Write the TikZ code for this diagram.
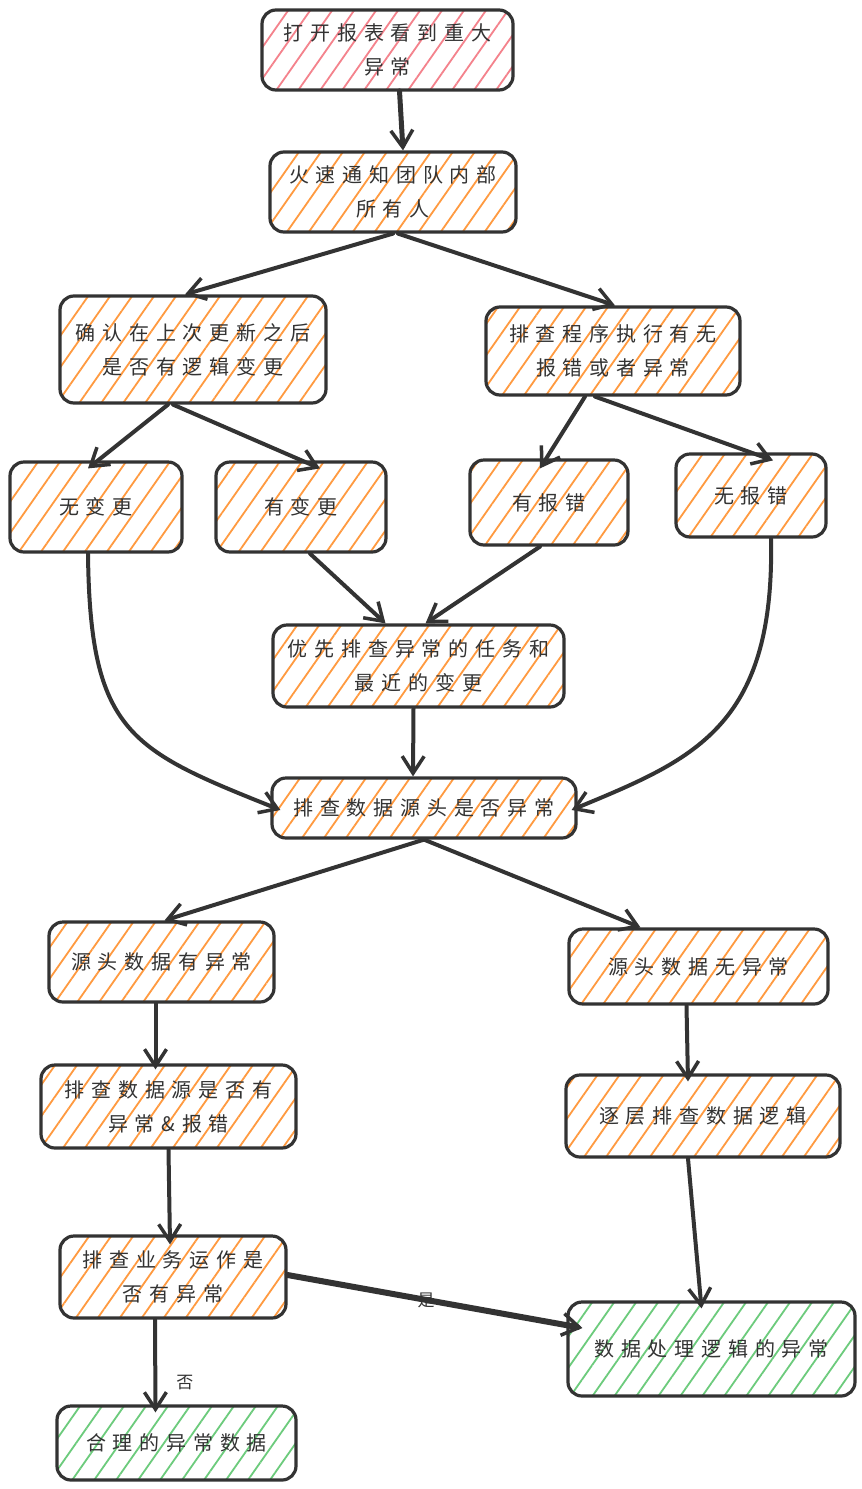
\documentclass[tikz,border=0pt]{standalone}
\usepackage{fontspec}
\newfontfamily\cjk[LetterSpace=34]{Noto Sans CJK SC}
\usetikzlibrary{arrows.meta,patterns.meta}
\definecolor{ink}{HTML}{333333}
\definecolor{hatchorange}{HTML}{FF9A40}
\definecolor{hatchred}{HTML}{F4828C}
\definecolor{hatchgreen}{HTML}{6CCB7C}
\tikzset{
  box/.style={draw=ink, line width=3.2pt, rounded corners=14pt, inner sep=0pt,
    align=center, text=ink, font=\cjk\fontsize{20}{34}\selectfont,
    pattern={Lines[angle=55,distance=18pt,line width=1.8pt]}},
  orangebox/.style={box, pattern color=hatchorange},
  redbox/.style={box, pattern color=hatchred},
  greenbox/.style={box, pattern color=hatchgreen},
  conn/.style={draw=ink, line width=4pt, line cap=round,
    -{Straight Barb[length=17pt,width=22pt,line width=3.5pt]}},
  lbl/.style={text=ink, font=\cjk\fontsize{17}{18}\selectfont, inner sep=1pt}
}
\begin{document}
\begin{tikzpicture}[x=1pt,y=-1pt]
\useasboundingbox[fill=white] (0,0) rectangle (862,1489);
\node[redbox, minimum width=251pt, minimum height=80pt] (n1) at (387.5,50) {打开报表看到重大\\异常};
\node[orangebox, minimum width=246pt, minimum height=80pt] (n2) at (393,192) {火速通知团队内部\\所有人};
\node[orangebox, minimum width=266pt, minimum height=107pt] (n3) at (193,349.5) {确认在上次更新之后\\是否有逻辑变更};
\node[orangebox, minimum width=254pt, minimum height=88pt] (n4) at (613,351) {排查程序执行有无\\报错或者异常};
\node[orangebox, minimum width=172pt, minimum height=90pt] (n5) at (96,507) {无变更};
\node[orangebox, minimum width=170pt, minimum height=90pt] (n6) at (301,507) {有变更};
\node[orangebox, minimum width=158pt, minimum height=85pt] (n7) at (549,502.5) {有报错};
\node[orangebox, minimum width=150pt, minimum height=83pt] (n8) at (751,495.5) {无报错};
\node[orangebox, minimum width=291pt, minimum height=82pt] (n9) at (418.5,666) {优先排查异常的任务和\\最近的变更};
\node[orangebox, minimum width=304pt, minimum height=60pt] (n10) at (424,808) {排查数据源头是否异常};
\node[orangebox, minimum width=225pt, minimum height=80pt] (n11) at (161.5,962) {源头数据有异常};
\node[orangebox, minimum width=259pt, minimum height=75pt] (n12) at (698.5,966.5) {源头数据无异常};
\node[orangebox, minimum width=255pt, minimum height=83pt] (n13) at (168.5,1106.5) {排查数据源是否有\\异常\&报错};
\node[orangebox, minimum width=274pt, minimum height=82pt] (n14) at (703,1116) {逐层排查数据逻辑};
\node[orangebox, minimum width=226pt, minimum height=82pt] (n15) at (173,1277) {排查业务运作是\\否有异常};
\node[greenbox, minimum width=287pt, minimum height=94pt] (n16) at (711.5,1349) {数据处理逻辑的异常};
\node[greenbox, minimum width=239pt, minimum height=74pt] (n17) at (176.5,1443) {合理的异常数据};

\draw[conn, line width=5pt] ([xshift=12pt]n1.south) -- ([xshift=10pt]n2.north);
\draw[conn] (n2.south) -- ([xshift=-8pt]n3.north);
\draw[conn] ([xshift=5pt]n2.south) -- ([xshift=2pt]n4.north);
\draw[conn] ([xshift=-25pt]n3.south) -- ([xshift=-8pt,yshift=-8pt]n5.north);
\draw[conn] ([xshift=-20pt]n3.south) -- ([xshift=19pt,yshift=-8pt]n6.north);
\draw[conn] ([xshift=-28pt]n4.south) -- ([xshift=-9pt,yshift=-10pt]n7.north);
\draw[conn] ([xshift=-18pt]n4.south) -- ([xshift=22pt,yshift=-8pt]n8.north);
\draw[conn] ([xshift=-8pt]n5.south) .. controls +(2,180) and +(-150,-60) .. ([xshift=10pt,yshift=-2pt]n10.west);
\draw[conn] ([xshift=20pt]n8.south) .. controls +(4,190) and +(120,-50) .. ([xshift=-6pt,yshift=-2pt]n10.east);
\draw[conn] ([xshift=9pt]n6.south) -- ([xshift=-33pt]n9.north);
\draw[conn] ([xshift=-9pt]n7.south) -- ([xshift=7pt]n9.north);
\draw[conn] ([xshift=-5pt]n9.south) -- ([xshift=-11pt]n10.north);
\draw[conn] (n10.south) -- ([xshift=3pt]n11.north);
\draw[conn] (n10.south) -- ([xshift=-58pt]n12.north);
\draw[conn] ([xshift=-6pt]n11.south) -- ([xshift=-13pt,yshift=-6pt]n13.north);
\draw[conn] ([xshift=-12pt]n12.south) -- ([xshift=-15pt,yshift=-8pt]n14.north);
\draw[conn] (n13.south) -- ([xshift=-3pt,yshift=-10pt]n15.north);
\draw[conn] ([xshift=-15pt]n14.south) -- ([xshift=-10pt,yshift=-8pt]n16.north);
\draw[conn, line width=6pt] ([yshift=2pt]n15.east) -- node[lbl, pos=0.47] {是} ([xshift=16pt,yshift=21pt]n16.west);
\draw[conn] ([xshift=-18pt]n15.south) -- node[lbl, right=18pt, pos=0.68] {否} ([xshift=-21pt,yshift=-8pt]n17.north);
\end{tikzpicture}
\end{document}
